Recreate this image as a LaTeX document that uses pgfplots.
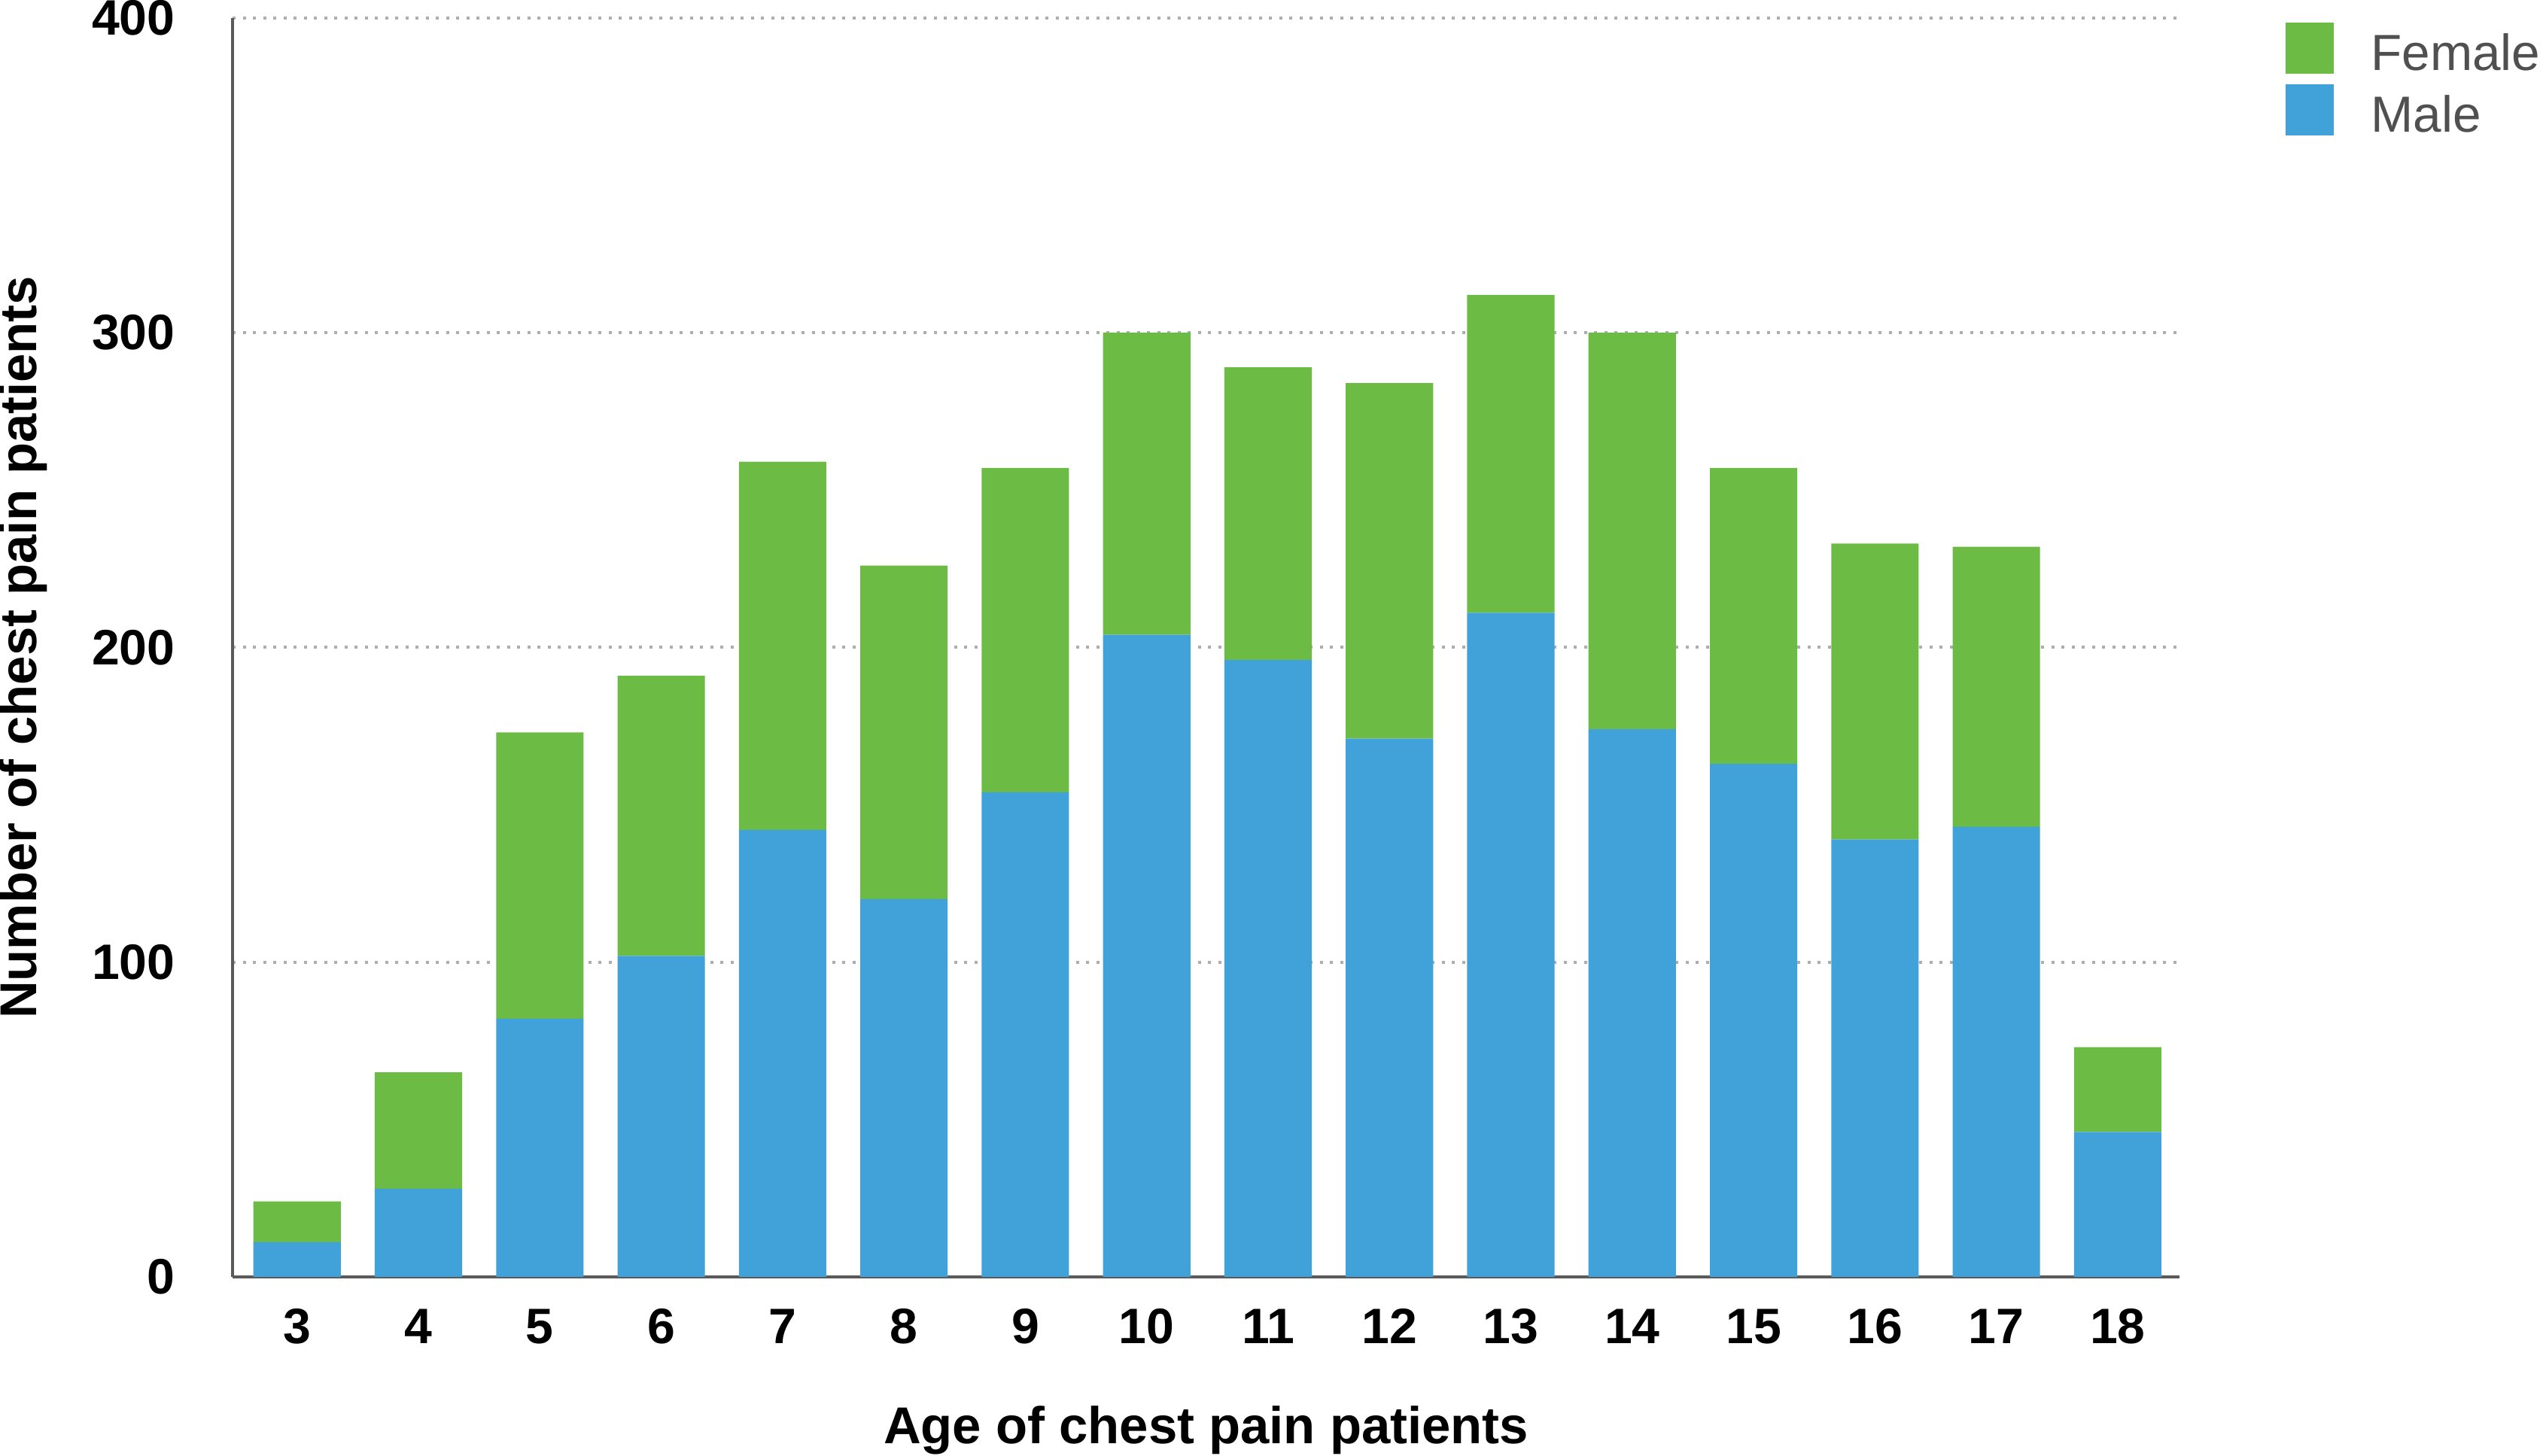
\documentclass[border=0pt]{standalone}
\usepackage{fontspec}
\setmainfont{Liberation Sans}
\usepackage{pgfplots}
\pgfplotsset{compat=1.18}
\definecolor{fem}{HTML}{6CBB45}
\definecolor{mal}{HTML}{40A2D8}
\definecolor{axgray}{HTML}{5A5A5A}
\definecolor{leggray}{HTML}{505050}
\begin{document}
\begin{tikzpicture}
\begin{axis}[
  name=ax,
  scale only axis,
  width=574.9pt, height=371.8pt,
  ybar stacked,
  bar width=0.72,
  xmin=2.469, xmax=18.51,
  ymin=0, ymax=400,
  xtick={3,...,18},
  ytick={0,100,200,300,400},
  major tick length=0pt,
  axis lines=left,
  axis line style={-, axgray, line width=1pt},
  ymajorgrids,
  grid style={black!32, line width=0.9pt, dash pattern=on 0.9pt off 2.1pt},
  /pgf/number format/assume math mode=true,
  ticklabel style={font=\bfseries\fontsize{14.7}{16}\selectfont},
  xticklabel style={yshift=-6pt},
  yticklabel style={xshift=-13.5pt},
  xlabel={Age of chest pain patients},
  ylabel={Number of chest pain patients},
  every axis x label/.style={at={(axis description cs:0.5,-0.1326)}, anchor=base, font=\bfseries\fontsize{15.3}{18}\selectfont},
  every axis y label/.style={at={(axis description cs:-0.1078,0.5)}, rotate=90, anchor=center, font=\bfseries\fontsize{15.3}{18}\selectfont},
  reverse legend,
  legend cell align=left,
  legend image code/.code={\fill[#1] (0pt,-5.7pt) rectangle (14.2pt,9.3pt);},
  legend style={at={(rel axis cs:1,1)}, anchor=north west, xshift=31.3pt, yshift=-1.4pt,
    draw=none, fill=none, inner sep=0pt, outer sep=0pt, row sep=2.8pt, column sep=11pt,
    nodes={inner sep=0pt, outer sep=0pt},
    font=\fontsize{15}{17}\selectfont, text=leggray},
]
\addplot[fill=mal, draw=none] coordinates {
(3,11) (4,28) (5,82) (6,102) (7,142) (8,120) (9,154) (10,204)
(11,196) (12,171) (13,211) (14,174) (15,163) (16,139) (17,143) (18,46)};
\addlegendentry{Male}
\addplot[fill=fem, draw=none] coordinates {
(3,13) (4,37) (5,91) (6,89) (7,117) (8,106) (9,103) (10,96)
(11,93) (12,113) (13,101) (14,126) (15,94) (16,94) (17,89) (18,27)};
\addlegendentry{Female}
\end{axis}
\pgfresetboundingbox
\useasboundingbox ([xshift=-68.7pt,yshift=-52.7pt]ax.south west) rectangle ([xshift=108.2pt,yshift=5.3pt]ax.north east);
\end{tikzpicture}
\end{document}
